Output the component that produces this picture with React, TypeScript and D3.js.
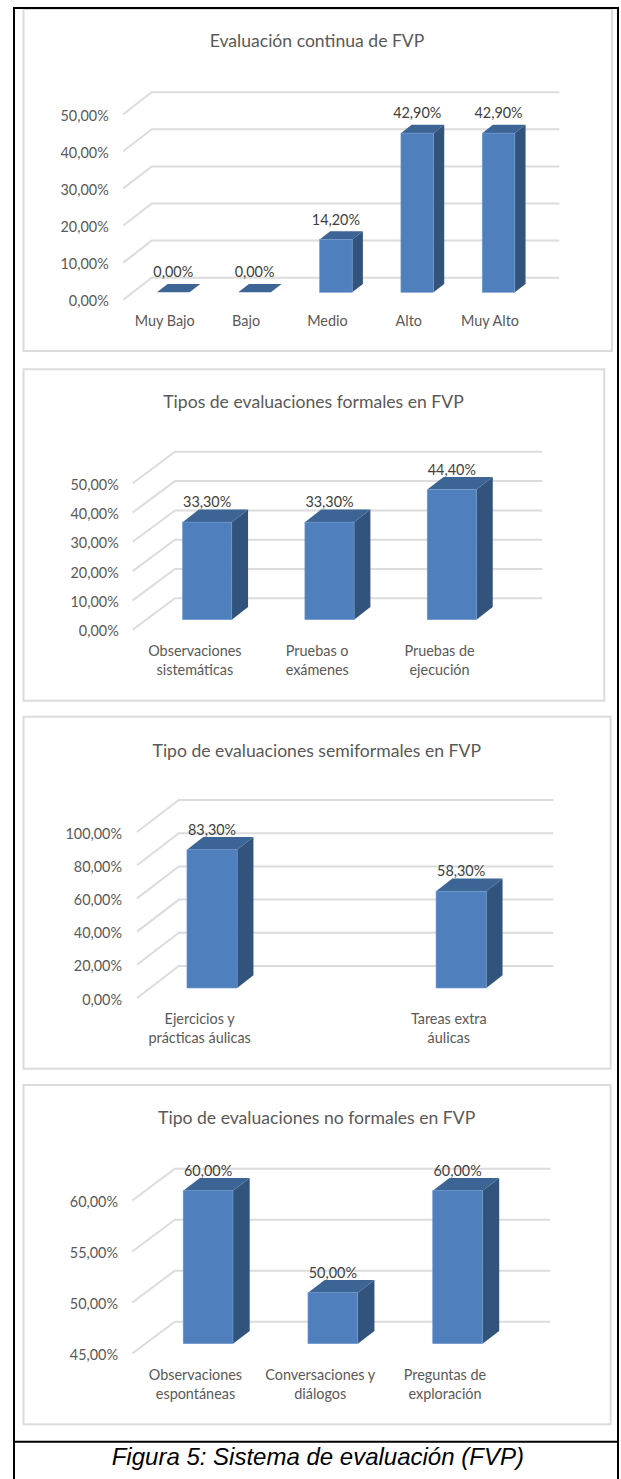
import React, { useEffect, useRef } from "react";
import * as d3 from "d3";

// values
const continuaCategories = ["Muy Bajo", "Bajo", "Medio", "Alto", "Muy Alto"];
const continuaValues = [0, 0, 14.2, 42.9, 42.9];
const continuaTicks = [0, 10, 20, 30, 40, 50];

const formalesCategories = ["Observaciones\nsistemáticas", "Pruebas o\nexámenes", "Pruebas de\nejecución"];
const formalesValues = [33.3, 33.3, 44.4];
const formalesTicks = [0, 10, 20, 30, 40, 50];

const semiCategories = ["Ejercicios y\nprácticas áulicas", "Tareas extra\náulicas"];
const semiValues = [83.3, 58.3];
const semiTicks = [0, 20, 40, 60, 80, 100];

const noFormalesCategories = ["Observaciones\nespontáneas", "Conversaciones y\ndiálogos", "Preguntas de\nexploración"];
const noFormalesValues = [60, 50, 60];
const noFormalesTicks = [45, 50, 55, 60];

const fontFamily = "Lato, 'Open Sans', sans-serif";
const pct = (v: number) => v.toFixed(2).replace(".", ",") + "%";

const charts = [
  {
    title: "Evaluación continua de FVP",
    categories: continuaCategories,
    values: continuaValues,
    ticks: continuaTicks,
    panel: [23.5, 9, 612, 351],
    titleX: 317,
    titleY: 41,
    band: [132.6, 539.2],
    barW: 32.6,
    baseY: 292.3,
    perUnit: 3.71,
    gridX: [123.3, 151.7, 559.3],
    gridBack: 14.6,
    gridFront: 7.4,
    depth: [10.7, 8.3],
    tickRight: 108.7,
    labelShift: -8.5,
    labelY: 321,
  },
  {
    title: "Tipos de evaluaciones formales en FVP",
    categories: formalesCategories,
    values: formalesValues,
    ticks: formalesTicks,
    panel: [23.5, 369.3, 604.3, 700.7],
    titleX: 313.5,
    titleY: 401.7,
    band: [146, 513],
    barW: 49.2,
    baseY: 619.7,
    perUnit: 2.93,
    gridX: [132.7, 175, 542.3],
    gridBack: 21.4,
    gridFront: 10,
    depth: [16.3, 12.7],
    tickRight: 118.7,
    labelShift: -12.3,
    labelY: 651,
  },
  {
    title: "Tipo de evaluaciones semiformales en FVP",
    categories: semiCategories,
    values: semiValues,
    ticks: semiTicks,
    panel: [23.5, 716.7, 610.6, 1068.7],
    titleX: 316.8,
    titleY: 751.3,
    band: [87.5, 585.7],
    barW: 50.2,
    baseY: 988,
    perUnit: 1.66,
    gridX: [137, 178.8, 553.4],
    gridBack: 22,
    gridFront: 10,
    depth: [16.3, 12.7],
    tickRight: 122,
    labelShift: -12.4,
    labelY: 1019.3,
  },
  {
    title: "Tipo de evaluaciones no formales en FVP",
    categories: noFormalesCategories,
    values: noFormalesValues,
    ticks: noFormalesTicks,
    panel: [23.5, 1085, 610.6, 1424.3],
    titleX: 316.7,
    titleY: 1118.3,
    band: [145.7, 520],
    barW: 49.8,
    baseY: 1343.7,
    perUnit: 10.2,
    gridX: [132.3, 174.8, 550.3],
    gridBack: 22,
    gridFront: 9.8,
    depth: [16.7, 12.7],
    tickRight: 118,
    labelShift: -12.6,
    labelY: 1375.3,
  },
];

export default function App() {
  const svgRef = useRef<SVGSVGElement | null>(null);

  useEffect(() => {
    const svg = d3.select(svgRef.current);
    svg.selectAll("*").remove();

    charts.forEach((c) => {
      const g = svg.append("g");
      const [px0, py0, px1, py1] = c.panel;

      g.append("rect")
        .attr("x", px0)
        .attr("y", py0)
        .attr("width", px1 - px0)
        .attr("height", py1 - py0)
        .attr("fill", "#fff")
        .attr("stroke", "#dcdcdc")
        .attr("stroke-width", 2);

      g.append("text")
        .attr("x", c.titleX)
        .attr("y", c.titleY)
        .attr("dy", "0.35em")
        .attr("text-anchor", "middle")
        .attr("font-size", 17.6)
        .attr("fill", "#595959")
        .text(c.title);

      const min = d3.min(c.ticks)!;
      const max = d3.max(c.ticks)!;
      const y = d3
        .scaleLinear()
        .domain([min, max])
        .range([c.baseY, c.baseY - c.perUnit * (max - min)]);

      const p = 1 - c.barW / ((c.band[1] - c.band[0]) / c.categories.length);
      const x = d3
        .scaleBand()
        .domain(c.categories)
        .range(c.band as [number, number])
        .paddingInner(p)
        .paddingOuter(p / 2);

      // Walls: front edge, back edge, then across the back
      const gridLine = d3.line<[number, number]>();
      g.selectAll(".grid")
        .data(c.ticks)
        .join("path")
        .attr("d", (t) =>
          gridLine([
            [c.gridX[0], y(t) + c.gridFront],
            [c.gridX[1], y(t) - c.gridBack],
            [c.gridX[2], y(t) - c.gridBack],
          ])
        )
        .attr("fill", "none")
        .attr("stroke", "#dcdcdc")
        .attr("stroke-width", 2);

      // Tick labels
      const axis = g
        .append("g")
        .attr("transform", `translate(${c.tickRight},${c.gridFront + 1.5})`)
        .call(
          d3
            .axisLeft(y)
            .tickValues(c.ticks)
            .tickFormat((t) => pct(t as number))
            .tickSize(0)
            .tickPadding(0)
        );
      axis.select(".domain").remove();
      axis
        .selectAll("text")
        .attr("font-family", fontFamily)
        .attr("font-size", 14.4)
        .attr("fill", "#595959");

      // Bars
      const bars = g
        .selectAll(".bar")
        .data(c.values.map((v, i) => ({ v, cat: c.categories[i] })))
        .join("g");
      const [dx, dy] = c.depth;

      bars
        .append("path")
        .attr("d", (d) => {
          const x1 = x(d.cat)! + c.barW;
          return `M${x1},${y(d.v)}L${x1 + dx},${y(d.v) - dy}L${x1 + dx},${y(min) - dy}L${x1},${y(min)}Z`;
        })
        .attr("fill", "#31537c");

      bars
        .append("path")
        .attr("d", (d) => {
          const x0 = x(d.cat)!;
          return `M${x0},${y(d.v)}L${x0 + dx},${y(d.v) - dy}L${x0 + c.barW + dx},${y(d.v) - dy}L${x0 + c.barW},${y(d.v)}Z`;
        })
        .attr("fill", "#3c6494");

      bars
        .append("rect")
        .attr("x", (d) => x(d.cat)!)
        .attr("y", (d) => y(d.v))
        .attr("width", c.barW)
        .attr("height", (d) => y(min) - y(d.v))
        .attr("fill", "#4f7fbd")
        .attr("stroke", "#6f9bd1")
        .attr("stroke-width", 0.6);

      // Value labels
      bars
        .append("text")
        .attr("x", (d) => x(d.cat)! + c.barW / 2)
        .attr("y", (d) => y(d.v) - 20)
        .attr("dy", "0.35em")
        .attr("text-anchor", "middle")
        .attr("font-size", 14.4)
        .attr("fill", "#404040")
        .text((d) => pct(d.v));

      // Category labels
      const labels = g
        .selectAll(".cat")
        .data(c.categories)
        .join("text")
        .attr("text-anchor", "middle")
        .attr("font-size", 14.4)
        .attr("fill", "#595959");
      labels
        .selectAll("tspan")
        .data((d) => d.split("\n").map((line) => ({ line, cat: d })))
        .join("tspan")
        .attr("x", (d) => x(d.cat)! + c.barW / 2 + c.labelShift)
        .attr("y", (_, i) => c.labelY + i * 19)
        .attr("dy", "0.35em")
        .text((d) => d.line);
    });

    // Table frame and caption row
    const frame = d3.line<[number, number]>();
    svg
      .append("path")
      .attr("d", frame([[14, 1479], [14, 8], [618, 8], [618, 1479]]))
      .attr("fill", "none")
      .attr("stroke", "#000")
      .attr("stroke-width", 2);
    svg
      .append("path")
      .attr("d", frame([[14, 1441.7], [618, 1441.7]]))
      .attr("stroke", "#000")
      .attr("stroke-width", 2);
    svg
      .append("text")
      .attr("x", 317.8)
      .attr("y", 1457)
      .attr("dy", "0.35em")
      .attr("text-anchor", "middle")
      .attr("font-family", "'Liberation Sans', Arial, sans-serif")
      .attr("font-style", "italic")
      .attr("font-size", 24)
      .attr("fill", "#000")
      .text("Figura 5: Sistema de evaluación (FVP)");
  }, []);

  return (
    <svg
      ref={svgRef}
      width={621}
      height={1479}
      fontFamily={fontFamily}
      style={{ position: "absolute", left: 0, top: 0, background: "#fff" }}
    />
  );
}
